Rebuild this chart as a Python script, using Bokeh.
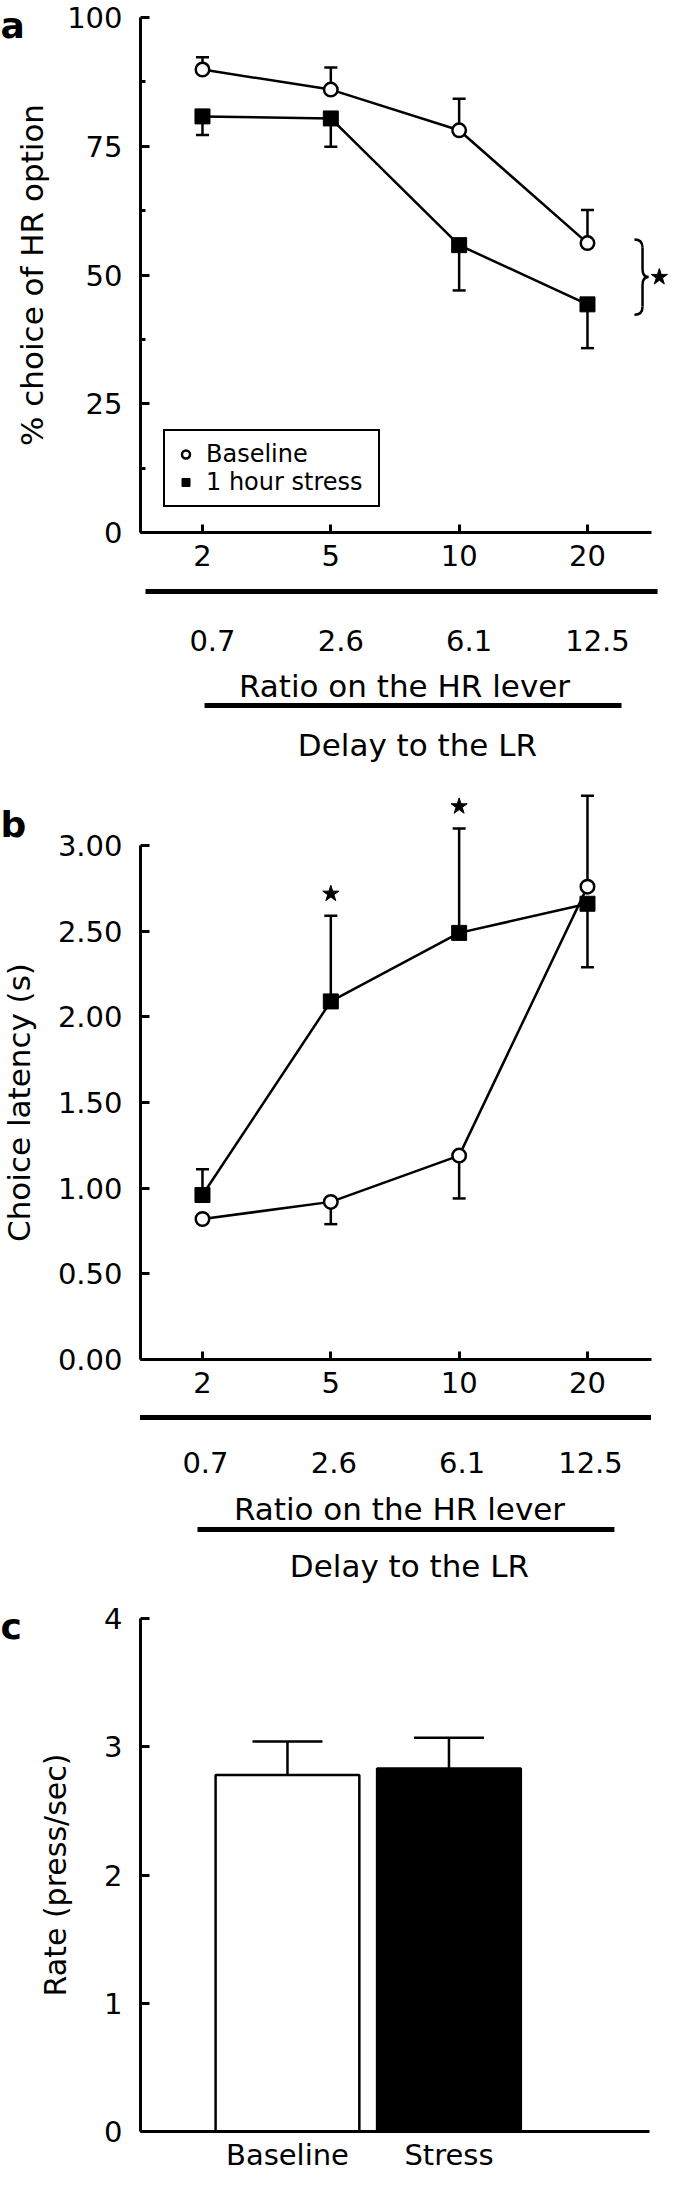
from bokeh.plotting import figure
from bokeh.models import (Range1d, LinearAxis, FixedTicker, NumeralTickFormatter,
                          Legend, LegendItem, Whisker, TeeHead, ColumnDataSource)
from bokeh.layouts import column
from bokeh.core.properties import value
from bokeh.embed import file_html
from bokeh.resources import INLINE

# ---------------- data ----------------
ratio_labels = ["2", "5", "10", "20"]          # ratio on the HR lever
delay_labels = ["0.7", "2.6", "6.1", "12.5"]   # delay to the LR

a_baseline = [89.9, 86.0, 78.1, 56.2]
a_baseline_sem = [2.4, 4.3, 6.1, 6.4]
a_stress = [80.8, 80.4, 55.8, 44.3]
a_stress_sem = [3.6, 5.5, 8.8, 8.5]

b_baseline = [0.82, 0.92, 1.19, 2.76]
b_baseline_sem = [0.02, 0.13, 0.25, 0.53]
b_stress = [0.96, 2.09, 2.49, 2.66]
b_stress_sem = [0.15, 0.50, 0.61, 0.37]
b_significant = [False, True, True, False]

c_groups = ["Baseline", "Stress"]
c_rate = [2.78, 2.83]
c_rate_sem = [0.26, 0.24]

# side on which each error bar is drawn (+1 up, -1 down)
a_baseline_side = [1, 1, 1, 1]
a_stress_side = [-1, -1, -1, -1]
b_baseline_side = [-1, -1, -1, 1]
b_stress_side = [1, 1, 1, -1]

# ---------------- layout / style ----------------
FONT = "DejaVu Sans"
W = 668
LEFT = 140            # x pixel of the y axis inside each figure
PX_CAT = 128.33       # pixels between categories (panels a, b)
X0 = -0.483           # data x of the y axis (panels a, b)
LW = 2.5


def make_fig(height, axis0_px, px_per_unit, px_per_x, x_at_axis):
    """Figure whose frame fills the whole canvas; axes are placed with fixed_location."""
    x_range = Range1d(x_at_axis - LEFT / px_per_x, x_at_axis + (W - LEFT) / px_per_x)
    y_range = Range1d(-(height - axis0_px) / px_per_unit, axis0_px / px_per_unit)
    p = figure(width=W, height=height, x_range=x_range, y_range=y_range,
               output_backend="svg", toolbar_location=None,
               x_axis_location=None, y_axis_location=None,
               min_border_left=0, min_border_right=0, min_border_top=0, min_border_bottom=0)
    p.extra_x_ranges = {"px": Range1d(0, W)}
    p.extra_y_ranges = {"px": Range1d(height, 0)}
    p.outline_line_color = None
    p.background_fill_color = "white"
    p.border_fill_color = "white"
    p.xgrid.visible = False
    p.ygrid.visible = False
    return p


def style_axis(ax, tick_in, label_size="29px", title_size="31px"):
    ax.axis_line_color = "black"
    ax.axis_line_width = 3
    ax.major_tick_line_color = "black"
    ax.major_tick_line_width = 3
    ax.minor_tick_line_color = "black"
    ax.minor_tick_line_width = 3
    ax.major_tick_in = tick_in
    ax.major_tick_out = 0
    ax.minor_tick_in = 5
    ax.minor_tick_out = 0
    ax.major_label_text_font = FONT
    ax.major_label_text_font_size = label_size
    ax.major_label_text_color = "black"
    ax.axis_label_text_font = FONT
    ax.axis_label_text_font_size = title_size
    ax.axis_label_text_font_style = "normal"
    ax.axis_label_text_color = "black"


def err_bars(p, xs, vals, sems, sides, head):
    lower = [v if s > 0 else v - e for v, e, s in zip(vals, sems, sides)]
    upper = [v + e if s > 0 else v for v, e, s in zip(vals, sems, sides)]
    src = ColumnDataSource(dict(x=xs, lower=lower, upper=upper))
    p.add_layout(Whisker(source=src, base="x", lower="lower", upper="upper", dimension="height",
                         line_color="black", line_width=LW, level="underlay",
                         upper_head=TeeHead(size=head, line_color="black", line_width=LW),
                         lower_head=TeeHead(size=head, line_color="black", line_width=LW)))
    return lower, upper


def series(p, xs, vals, marker, size, fill):
    p.line(xs, vals, line_color="black", line_width=LW)
    return p.scatter(xs, vals, marker=marker, size=size, fill_color=fill,
                     line_color="black", line_width=LW if fill == "white" else 1)


def letter(p, txt, x_px, y_px):
    p.text(x=[x_px], y=[y_px], text=[txt], x_range_name="px", y_range_name="px",
           text_font=value(FONT), text_font_size=value("36px"), text_font_style="bold",
           text_color="black", text_align="left", text_baseline="alphabetic")


def txt(p, x, y_px, labels, size, dx=0):
    p.text(x=x, y=y_px, text=labels, y_range_name="px", x_offset=dx,
           text_font=value(FONT), text_font_size=value(size), text_color="black",
           text_align="center", text_baseline="alphabetic")


def hline(p, x0, x1, y_px):
    p.segment(x0=[x0], y0=[y_px], x1=[x1], y1=[y_px], y_range_name="px",
              line_color="black", line_width=5)


def category_axes(p, ymax_axis, y_ticks, title, minor=None, fmt=None, y_standoff=14):
    kw = dict(ticker=FixedTicker(ticks=y_ticks, minor_ticks=minor or []),
              bounds=(0, ymax_axis), axis_label=title, fixed_location=X0)
    if fmt:
        kw["formatter"] = NumeralTickFormatter(format=fmt)
    ya = LinearAxis(**kw)
    style_axis(ya, 9)
    ya.major_label_standoff = 18
    ya.axis_label_standoff = y_standoff
    p.add_layout(ya, "left")
    xa = LinearAxis(ticker=FixedTicker(ticks=list(range(len(ratio_labels)))),
                    major_label_overrides={i: t for i, t in enumerate(ratio_labels)},
                    bounds=(X0, 3.5), fixed_location=0)
    style_axis(xa, 8)
    xa.major_label_standoff = 12
    p.add_layout(xa, "below")


def label_rows(p, cfg):
    cats = list(range(len(delay_labels)))
    hline(p, cfg["l1"][0], cfg["l1"][1], cfg["l1y"])
    txt(p, cats, cfg["row_y"], delay_labels, "29px", cfg["row_dx"])
    txt(p, [1.5], cfg["t1y"], ["Ratio on the HR lever"], "31px", cfg["t1dx"])
    hline(p, cfg["l2"][0], cfg["l2"][1], cfg["l2y"])
    txt(p, [1.5], cfg["t2y"], ["Delay to the LR"], "31px", cfg["t2dx"])


cats = list(range(len(ratio_labels)))

# ================= panel a =================
A_H, A_AXIS, A_PPU = 775, 532, 5.15
pa = make_fig(A_H, A_AXIS, A_PPU, PX_CAT, X0)
category_axes(pa, 100, [0, 25, 50, 75, 100], "% choice of HR option",
              minor=[12.5, 37.5, 62.5, 87.5], y_standoff=14)

err_bars(pa, cats, a_baseline, a_baseline_sem, a_baseline_side, 13)
err_bars(pa, cats, a_stress, a_stress_sem, a_stress_side, 13)
ra_b = series(pa, cats, a_baseline, "circle", 13.5, "white")
ra_s = series(pa, cats, a_stress, "square", 15, "black")

# brace + star marking the group difference
r = 8 / A_PPU
xl, xm, xr = 3.366, 3.429, 3.475
btop, bbot = a_baseline[-1] + 0.7, a_stress[-1] - 2.0
bmid = (btop + bbot) / 2
pa.quadratic(x0=[xl, xm, xr, xm], y0=[btop, bmid + r, bmid, bbot + r],
             x1=[xm, xr, xm, xl], y1=[btop - r, bmid, bmid - r, bbot],
             cx=[xm, xm, xm, xm], cy=[btop, bmid, bmid, bbot],
             line_color="black", line_width=LW)
pa.segment(x0=[xm, xm], y0=[btop - r, bmid - r], x1=[xm, xm], y1=[bmid + r, bbot + r],
           line_color="black", line_width=LW)
pa.scatter([3.56], [bmid], marker="star", size=17, color="black")

legend = Legend(items=[LegendItem(label="Baseline", renderers=[ra_b]),
                       LegendItem(label="1 hour stress", renderers=[ra_s])],
                location=(163, A_H - 507), orientation="vertical", padding=9, spacing=0, margin=0,
                label_text_font=FONT, label_text_font_size="24px", label_text_color="black",
                label_standoff=9, glyph_width=23, glyph_height=20, label_width=163, label_height=20,
                border_line_color="black", border_line_width=LW, border_line_alpha=1,
                background_fill_color="white", background_fill_alpha=1)
pa.add_layout(legend)
letter(pa, "a", 0, 25)
label_rows(pa, dict(l1=(-0.444, 3.546), l1y=591, row_y=639.5, row_dx=10,
                    t1y=685.3, t1dx=9.5, l2=(0.016, 3.265), l2y=705, t2y=744.7, t2dx=22.5))

# ================= panel b =================
B_H, B_AXIS, B_PPU = 824, 584, 171.33
pb = make_fig(B_H, B_AXIS, B_PPU, PX_CAT, X0)
category_axes(pb, 3, [0, 0.5, 1, 1.5, 2, 2.5, 3], "Choice latency (s)", fmt="0.00", y_standoff=18)

err_bars(pb, cats, b_baseline, b_baseline_sem, b_baseline_side, 13)
_, b_upper = err_bars(pb, cats, b_stress, b_stress_sem, b_stress_side, 13)
series(pb, cats, b_baseline, "circle", 13.5, "white")
series(pb, cats, b_stress, "square", 15, "black")
star_x = [c for c, s in zip(cats, b_significant) if s]
star_y = [u + 22 / B_PPU for u, s in zip(b_upper, b_significant) if s]
pb.scatter(star_x, star_y, marker="star", size=17, color="black")
letter(pb, "b", 0, 49)
label_rows(pb, dict(l1=(-0.487, 3.495), l1y=642, row_y=687, row_dx=3,
                    t1y=733.7, t1dx=4.5, l2=(-0.039, 3.21), l2y=754, t2y=790, t2dx=14.5))

# ================= panel c =================
C_H, C_AXIS, C_PPU = 586, 532, 128.25
PX_BAR = 161.5
CX0 = -0.91
pc = make_fig(C_H, C_AXIS, C_PPU, PX_BAR, CX0)
yc = LinearAxis(ticker=FixedTicker(ticks=[0, 1, 2, 3, 4]), bounds=(0, 4),
                axis_label="Rate (press/sec)", fixed_location=CX0)
style_axis(yc, 9, title_size="30px")
yc.major_label_standoff = 18
yc.axis_label_standoff = 28
pc.add_layout(yc, "left")
gx = list(range(len(c_groups)))
xc = LinearAxis(ticker=FixedTicker(ticks=gx),
                major_label_overrides={i: g for i, g in enumerate(c_groups)},
                bounds=(CX0, 2.24), fixed_location=0)
style_axis(xc, 0)
xc.major_label_standoff = 6
pc.add_layout(xc, "below")

c_fill = ["white", "black"]
csrc = ColumnDataSource(dict(x=gx, top=c_rate, fill=c_fill))
upper = [v + e for v, e in zip(c_rate, c_rate_sem)]
pc.add_layout(Whisker(source=ColumnDataSource(dict(x=gx, lower=c_rate, upper=upper)),
                      base="x", lower="lower", upper="upper", dimension="height",
                      line_color="black", line_width=LW, level="underlay", lower_head=None,
                      upper_head=TeeHead(size=70, line_color="black", line_width=LW)))
pc.vbar(x="x", top="top", width=0.89, bottom=0, source=csrc, fill_color="fill",
        line_color="black", line_width=LW)
letter(pc, "c", 0, 27)

layout = column(pa, pb, pc, spacing=0)
open("out.html", "w").write(file_html(layout, INLINE))
